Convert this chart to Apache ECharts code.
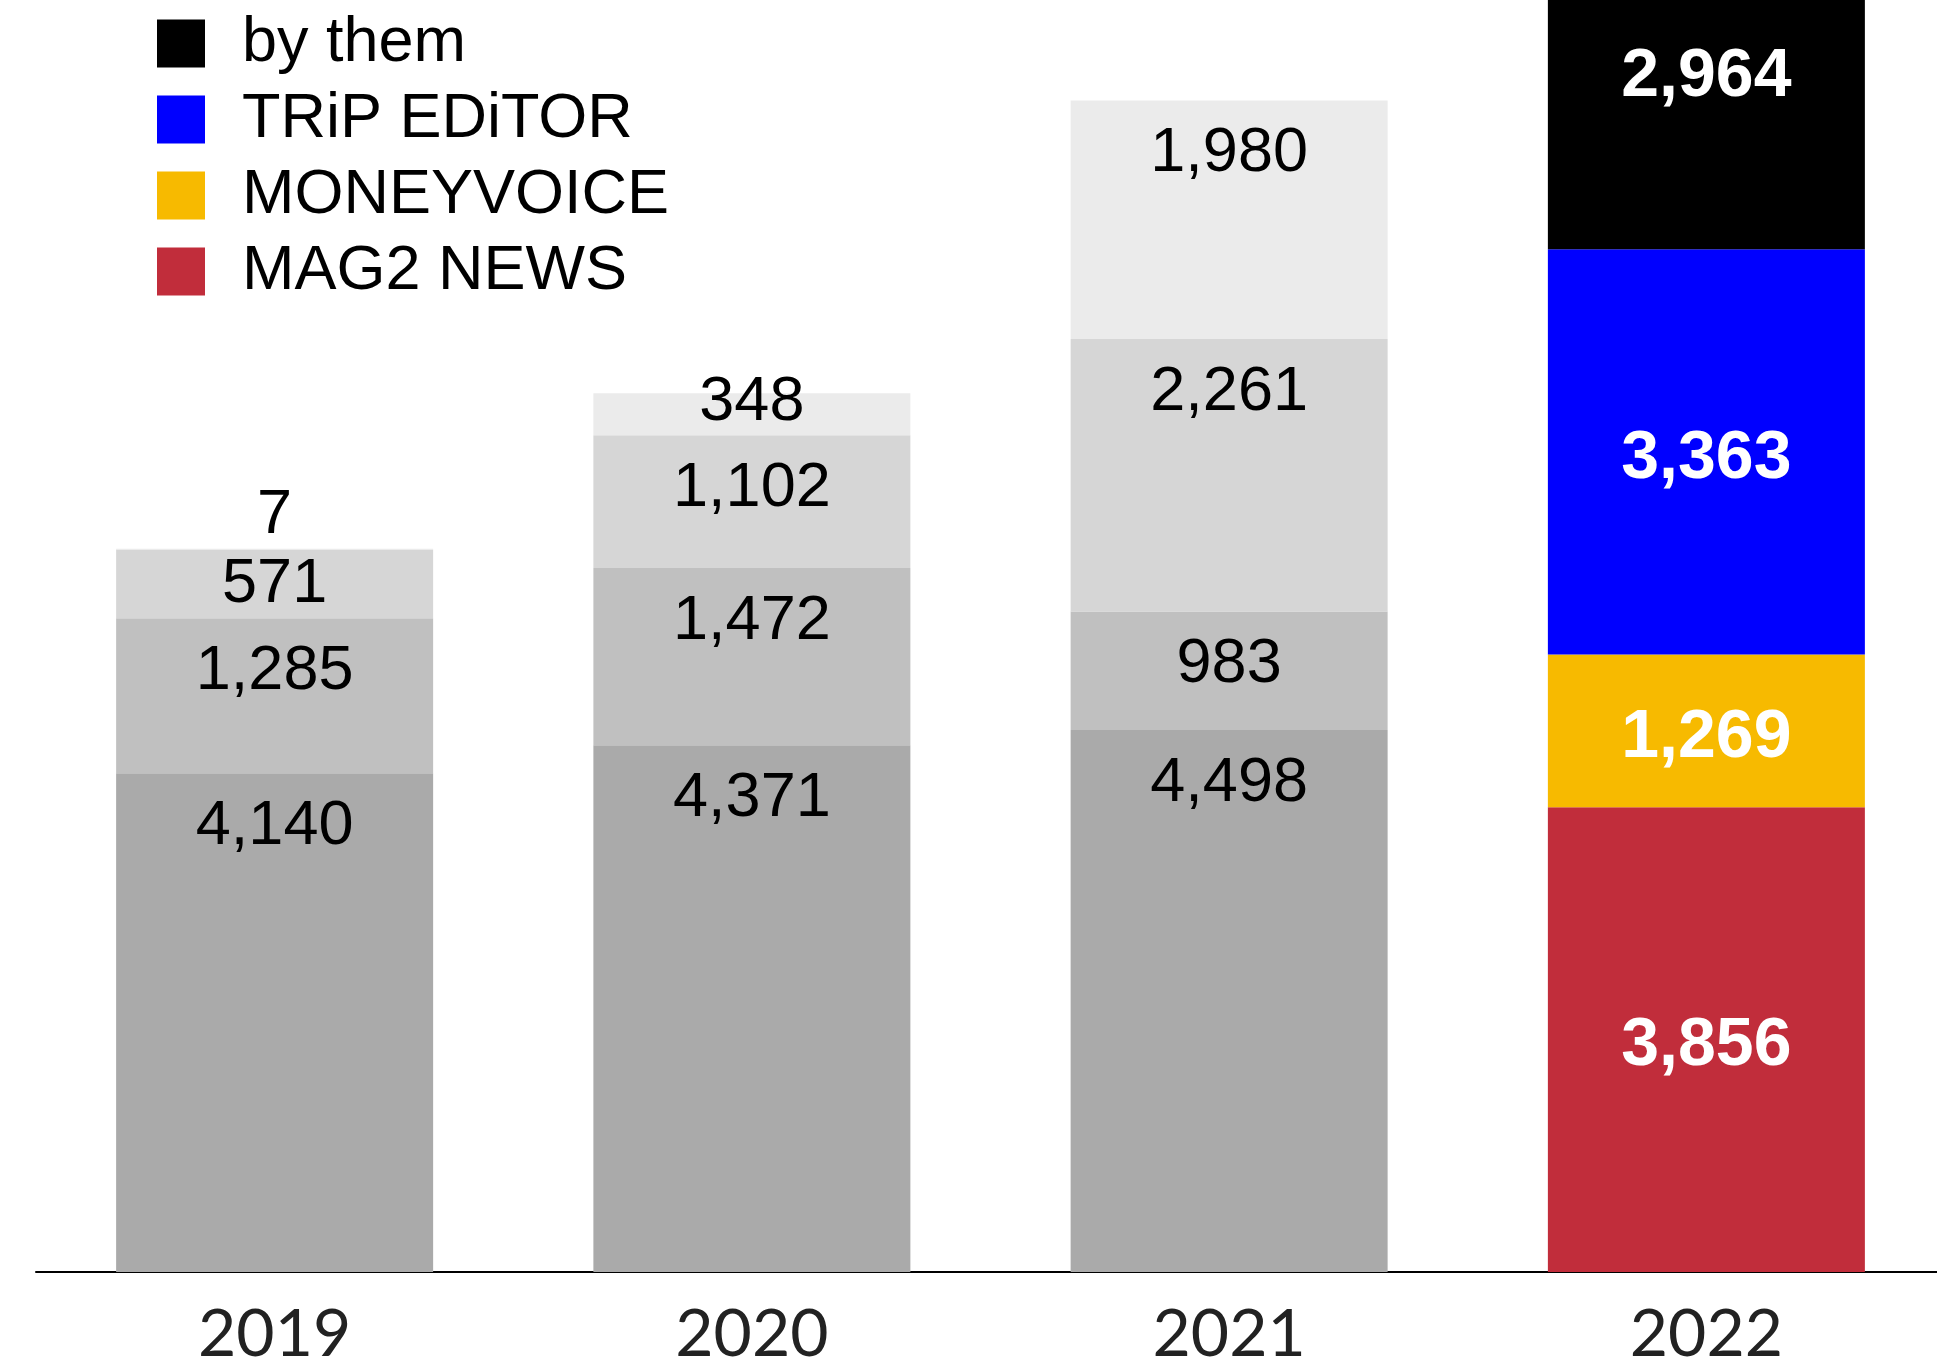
<!DOCTYPE html>
<html>
<head>
<meta charset="utf-8">
<script src="https://cdn.jsdelivr.net/npm/echarts@6/dist/echarts.min.js"></script>
<style>
  html, body { margin: 0; padding: 0; background: #fff; }
  #main { width: 1937px; height: 1366px; }
</style>
</head>
<body>
<div id="main"></div>
<script>
// values
var years = ['2019', '2020', '2021', '2022'];
var mag2News = [4140, 4371, 4498, 3856];
var moneyVoice = [1285, 1472, 983, 1269];
var tripEditor = [571, 1102, 2261, 3363];
var byThem = [7, 348, 1980, 2964];

var seriesNames = ['MAG2 NEWS', 'MONEYVOICE', 'TRiP EDiTOR', 'by them'];
var seriesColors = ['#c12d3b', '#f7ba00', '#0000ff', '#000000'];
var grays = ['#aaaaaa', '#c0c0c0', '#d6d6d6', '#ebebeb'];

// small nudges for crowded labels: [seriesIndex, dataIndex, dy]
var labelNudges = [[3, 0, -87], [2, 0, -18], [3, 1, -44]];

function fmt(v) { return v.toLocaleString('en-US'); }

function buildData(values, si) {
  return values.map(function (v, i) {
    var item = { value: v };
    if (i < 3) {
      item.itemStyle = { color: grays[si] };
    } else {
      item.label = {
        position: 'inside',
        distance: 0,
        offset: [0, 7],
        fontSize: 68,
        fontWeight: 'bold',
        color: '#ffffff'
      };
    }
    labelNudges.forEach(function (n) {
      if (n[0] === si && n[1] === i) {
        item.label = { offset: [0, n[2]] };
      }
    });
    return item;
  });
}

var allValues = [mag2News, moneyVoice, tripEditor, byThem];

var series = allValues.map(function (vals, si) {
  return {
    name: seriesNames[si],
    type: 'bar',
    stack: 'total',
    barWidth: 317,
    clip: false,
    itemStyle: { color: seriesColors[si] },
    label: {
      show: true,
      position: 'insideTop',
      distance: 22,
      fontFamily: 'Liberation Sans, Arial, sans-serif',
      fontSize: 63,
      color: '#000000',
      formatter: function (p) { return fmt(p.value); }
    },
    emphasis: { disabled: true },
    data: buildData(vals, si)
  };
});

var myChart = echarts.init(document.getElementById('main'), null, { renderer: 'canvas' });
myChart.setOption({
  animation: false,
  backgroundColor: '#ffffff',
  grid: {
    left: 36, width: 1909, top: 0, bottom: 94,
    containLabel: false,
    outerBoundsMode: 'none'
  },
  legend: {
    orient: 'vertical',
    left: 152,
    top: 7,
    itemWidth: 48,
    itemHeight: 48,
    itemGap: 13,
    icon: 'rect',
    selectedMode: false,
    data: ['by them', 'TRiP EDiTOR', 'MONEYVOICE', 'MAG2 NEWS'],
    textStyle: {
      fontFamily: 'Liberation Sans, Arial, sans-serif',
      fontSize: 63,
      color: '#000000',
      padding: [0, 0, 0, 32]
    }
  },
  xAxis: {
    type: 'category',
    data: years,
    axisLine: { show: true, lineStyle: { color: '#000000', width: 2 } },
    axisTick: { show: false },
    axisLabel: {
      margin: 30,
      fontFamily: 'Lato, sans-serif',
      fontSize: 66,
      color: '#222222'
    }
  },
  yAxis: {
    type: 'value',
    min: 0,
    max: 10556,
    show: false,
    splitLine: { show: false }
  },
  series: series
});
</script>
</body>
</html>
